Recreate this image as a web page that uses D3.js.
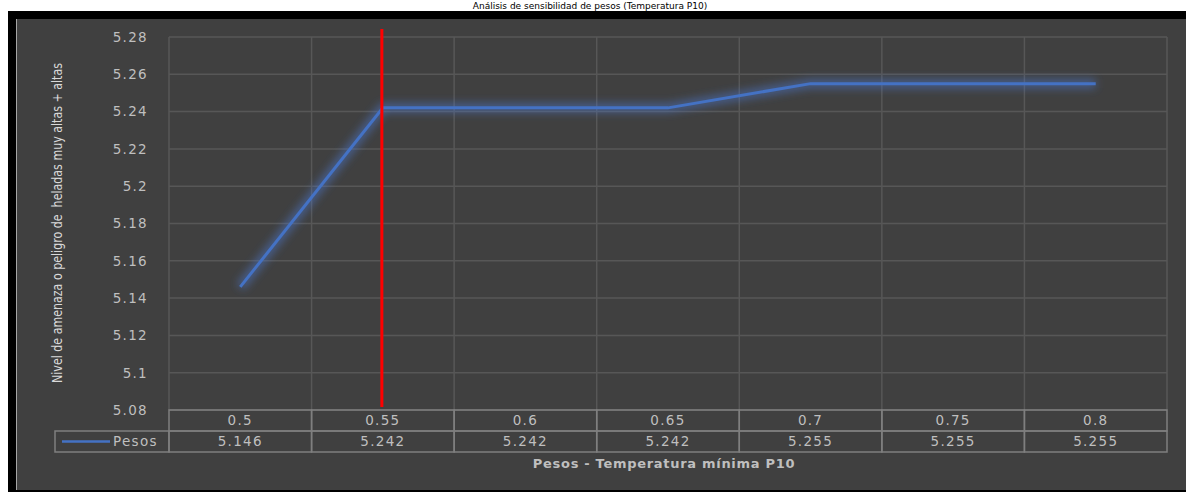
<!DOCTYPE html>
<html>
<head>
<meta charset="utf-8">
<script src="https://cdn.jsdelivr.net/npm/d3@7"></script>
<style>
  body { margin: 0; background: #fff; }
  svg { display: block; }
</style>
</head>
<body>
<svg width="1186" height="492"></svg>
<script>
// datos
const categorias = ["0.5", "0.55", "0.6", "0.65", "0.7", "0.75", "0.8"];
const pesos = [5.146, 5.242, 5.242, 5.242, 5.255, 5.255, 5.255];
const ticksY = [5.08, 5.1, 5.12, 5.14, 5.16, 5.18, 5.2, 5.22, 5.24, 5.26, 5.28];
const etiquetasTabla = ["5.146", "5.242", "5.242", "5.242", "5.255", "5.255", "5.255"];
const categoriaMarcada = "0.55";

const svg = d3.select("svg");

// titulo (en la franja blanca de arriba, casi cortado en el original)
svg.append("text")
  .attr("x", 590).attr("y", 8.5)
  .attr("text-anchor", "middle")
  .attr("fill", "#000")
  .style("font-family", "DejaVu Sans").style("font-size", "9px")
  .text("Análisis de sensibilidad de pesos (Temperatura P10)");

// marco negro y fondo
svg.append("rect").attr("x", 8).attr("y", 11).attr("width", 1178).attr("height", 481).attr("fill", "#000");
svg.append("rect").attr("x", 16).attr("y", 19).attr("width", 1170).attr("height", 471).attr("fill", "#404040");
svg.append("line").attr("x1", 16.5).attr("x2", 16.5).attr("y1", 19).attr("y2", 490)
  .attr("stroke", "#a6a6a6").attr("stroke-width", 1);

const izq = 169, der = 1167, arriba = 37, abajo = 410;
const rowH = 21;

const x = d3.scaleBand().domain(categorias).range([izq, der]);
const y = d3.scaleLinear().domain([5.08, 5.28]).range([abajo, arriba]);

// rejilla horizontal
svg.append("g")
  .selectAll("line")
  .data(ticksY)
  .enter()
  .append("line")
  .attr("x1", izq).attr("x2", der)
  .attr("y1", d => y(d)).attr("y2", d => y(d))
  .attr("stroke", "#575757").attr("stroke-width", 1.5);

// rejilla vertical (limites de categorias)
const bordes = categorias.map(c => x(c)).concat([der]);
svg.append("g")
  .selectAll("line")
  .data(bordes)
  .enter()
  .append("line")
  .attr("x1", d => d).attr("x2", d => d)
  .attr("y1", arriba).attr("y2", abajo)
  .attr("stroke", "#575757").attr("stroke-width", 1.5);

// etiquetas eje y
svg.append("g")
  .selectAll("text")
  .data(ticksY)
  .enter()
  .append("text")
  .attr("x", 148)
  .attr("y", d => y(d))
  .attr("dy", "0.36em")
  .attr("text-anchor", "end")
  .attr("fill", "#bfbfbf")
  .style("font-family", "DejaVu Sans").style("font-size", "13.5px").style("letter-spacing", "1.3px")
  .text(d => d3.format("")(d));

// titulo eje y (fuente estrecha en el original)
svg.append("text")
  .attr("transform", "translate(62,223) rotate(-90)")
  .attr("text-anchor", "middle")
  .attr("fill", "#d9d9d9")
  .attr("textLength", 320)
  .attr("lengthAdjust", "spacingAndGlyphs")
  .attr("xml:space", "preserve")
  .style("font-family", "'DejaVu Sans Condensed', 'DejaVu Sans', sans-serif")
  .style("font-size", "14.5px")
  .style("white-space", "pre")
  .text("Nivel de amenaza o peligro de  heladas muy altas + altas");

// linea con brillo
const defs = svg.append("defs");
const glow = defs.append("filter").attr("id", "glow")
  .attr("x", "-10%").attr("y", "-30%").attr("width", "120%").attr("height", "160%");
glow.append("feGaussianBlur").attr("in", "SourceGraphic").attr("stdDeviation", 4);

const linea = d3.line()
  .x((d, i) => x(categorias[i]) + x.bandwidth() / 2)
  .y(d => y(d));

svg.append("path")
  .datum(pesos)
  .attr("d", linea)
  .attr("fill", "none")
  .attr("stroke", "#4a78d0").attr("stroke-opacity", 0.55)
  .attr("stroke-width", 9)
  .attr("filter", "url(#glow)");

svg.append("path")
  .datum(pesos)
  .attr("d", linea)
  .attr("fill", "none")
  .attr("stroke", "#4472c4")
  .attr("stroke-width", 3);

// linea roja
const xr = x(categoriaMarcada) + x.bandwidth() / 2 - 1;
svg.append("line")
  .attr("x1", xr).attr("x2", xr)
  .attr("y1", 29).attr("y2", abajo - 3)
  .attr("stroke", "#ff0000").attr("stroke-width", 3);

// tabla de datos
const tabla = svg.append("g");
const borde = "#7f7f7f";
const estiloTexto = sel => sel
  .attr("fill", "#bfbfbf")
  .style("font-family", "DejaVu Sans").style("font-size", "13.5px").style("letter-spacing", "1.3px");

tabla.selectAll("rect.cat")
  .data(categorias)
  .enter()
  .append("rect")
  .attr("x", d => x(d)).attr("y", abajo)
  .attr("width", x.bandwidth()).attr("height", rowH)
  .attr("fill", "none").attr("stroke", borde).attr("stroke-width", 1.5);

tabla.selectAll("rect.val")
  .data(categorias)
  .enter()
  .append("rect")
  .attr("x", d => x(d)).attr("y", abajo + rowH)
  .attr("width", x.bandwidth()).attr("height", rowH)
  .attr("fill", "none").attr("stroke", borde).attr("stroke-width", 1.5);

tabla.selectAll("text.cat")
  .data(categorias)
  .enter()
  .append("text")
  .attr("x", d => x(d) + x.bandwidth() / 2)
  .attr("y", abajo + rowH / 2)
  .attr("dy", "0.36em")
  .attr("text-anchor", "middle")
  .call(estiloTexto)
  .text(d => d);

tabla.selectAll("text.val")
  .data(etiquetasTabla)
  .enter()
  .append("text")
  .attr("x", (d, i) => x(categorias[i]) + x.bandwidth() / 2)
  .attr("y", abajo + rowH * 1.5)
  .attr("dy", "0.36em")
  .attr("text-anchor", "middle")
  .call(estiloTexto)
  .text(d => d);

// celda de leyenda
tabla.append("rect")
  .attr("x", 55).attr("y", abajo + rowH)
  .attr("width", izq - 55).attr("height", rowH)
  .attr("fill", "none").attr("stroke", borde).attr("stroke-width", 1.5);
tabla.append("line")
  .attr("x1", 62).attr("x2", 110)
  .attr("y1", abajo + rowH * 1.5).attr("y2", abajo + rowH * 1.5)
  .attr("stroke", "#4472c4").attr("stroke-width", 2.5);
tabla.append("text")
  .attr("x", 113).attr("y", abajo + rowH * 1.5)
  .attr("dy", "0.36em")
  .call(estiloTexto)
  .text("Pesos");

// titulo eje x
svg.append("text")
  .attr("x", (izq + der) / 2 - 4).attr("y", 463)
  .attr("dy", "0.36em")
  .attr("text-anchor", "middle")
  .attr("fill", "#bfbfbf")
  .style("font-family", "DejaVu Sans").style("font-size", "13px").style("font-weight", "bold")
  .style("letter-spacing", "0.7px")
  .text("Pesos - Temperatura mínima P10");
</script>
</body>
</html>
